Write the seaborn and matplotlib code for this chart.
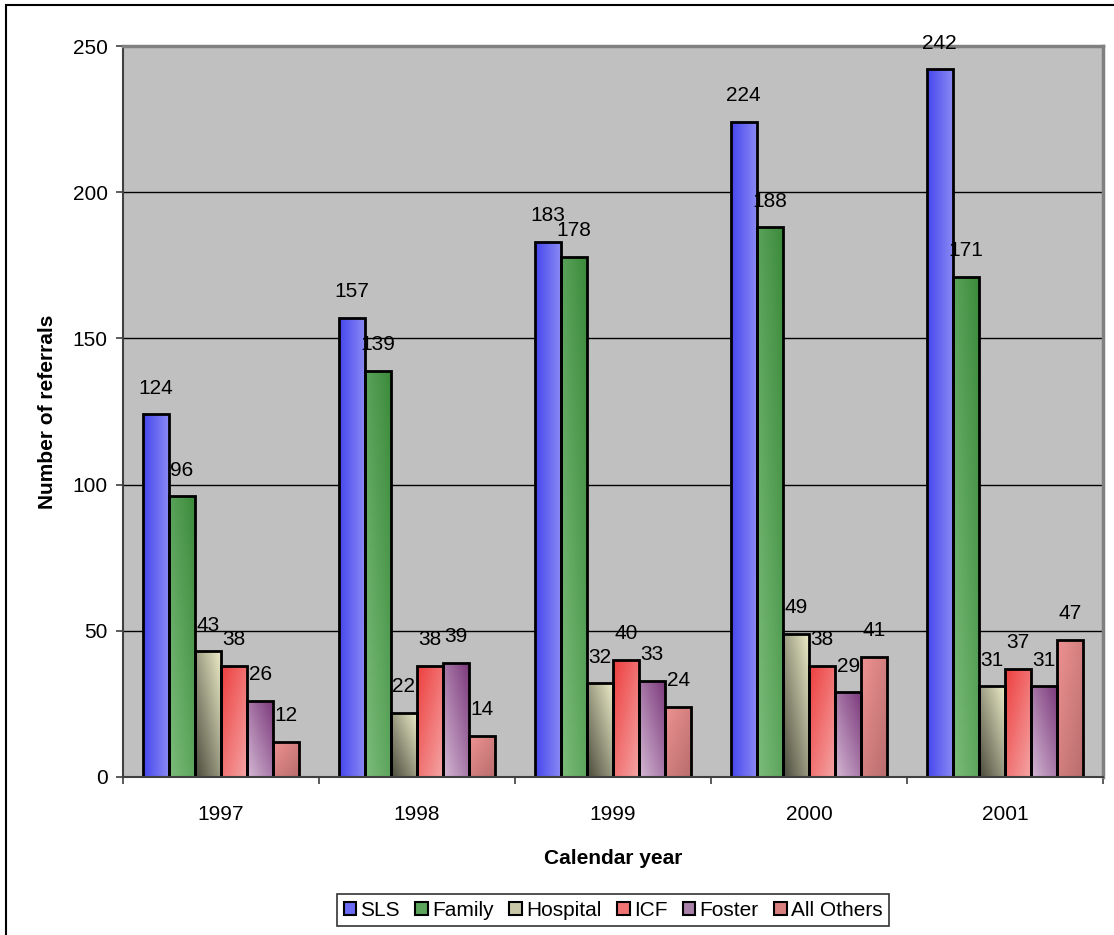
import matplotlib
matplotlib.use("Agg")
import matplotlib.pyplot as plt
from matplotlib.colors import LinearSegmentedColormap, to_rgb
from matplotlib.patches import Patch, Rectangle
import numpy as np
import pandas as pd
import seaborn as sns

# Data
years = ["1997", "1998", "1999", "2000", "2001"]
sources = ["SLS", "Family", "Hospital", "ICF", "Foster", "All Others"]
sls = [124, 157, 183, 224, 242]
family = [96, 139, 178, 188, 171]
hospital = [43, 22, 32, 49, 31]
icf = [38, 38, 40, 38, 37]
foster = [26, 39, 33, 29, 31]
all_others = [12, 14, 24, 41, 47]

rows = []
for src, vals in zip(sources, [sls, family, hospital, icf, foster, all_others]):
    for yr, v in zip(years, vals):
        rows.append({"year": yr, "source": src, "count": v})
df = pd.DataFrame(rows)

# Excel-like gradient fills: (start colour, end colour, direction)
# direction = (dx, dy) in bar-normalised coords, start -> end
gradients = {
    "SLS": ("#4646EE", "#8C8CF4", (1, 0)),
    "Family": ("#3A8A3A", "#7CBC7C", (-1, -1)),
    "Hospital": ("#EEEECA", "#4A4A3C", (-1, -1)),
    "ICF": ("#EE3E3E", "#F4A6A6", (1, -1)),
    "Foster": ("#7A387A", "#D4B8D4", (-1, -1)),
    "All Others": ("#EE9292", "#B86C6C", (1, -1)),
}
legend_colors = {
    "SLS": "#6A6AF2",
    "Family": "#5CA45C",
    "Hospital": "#C8C8A8",
    "ICF": "#F07474",
    "Foster": "#A880A8",
    "All Others": "#D88080",
}

sns.set_theme(style="white")
plt.rcParams["font.family"] = ["Liberation Sans", "DejaVu Sans"]
plt.rcParams["text.color"] = "black"
plt.rcParams["axes.labelcolor"] = "black"
plt.rcParams["xtick.color"] = "black"
plt.rcParams["ytick.color"] = "black"
FS = 15

fig = plt.figure(figsize=(11.14, 9.35), dpi=100)
ax = fig.add_axes([123 / 1114, 1 - 777 / 935, 980 / 1114, 731 / 935])
ax.set_facecolor("#C0C0C0")

sns.barplot(
    data=df, x="year", y="count", hue="source", hue_order=sources,
    palette=legend_colors, width=0.8, edgecolor="black", linewidth=2,
    legend=False, ax=ax,
)

# gradient overlay per bar, clipped to the bar shape
grid = np.linspace(0, 1, 64)
U, V = np.meshgrid(grid, grid)
Vup = 1 - V  # imshow origin is upper
for container, src in zip(ax.containers, sources):
    c0, c1, (dx, dy) = gradients[src]
    cmap = LinearSegmentedColormap.from_list(src, [to_rgb(c0), to_rgb(c1)])
    t = U * dx + Vup * dy
    t = (t - t.min()) / (t.max() - t.min())
    for bar in container:
        x0 = bar.get_x()
        w = bar.get_width()
        h = bar.get_height()
        im = ax.imshow(t, cmap=cmap, extent=(x0, x0 + w, 0, h),
                       aspect="auto", interpolation="bilinear", zorder=1.5)
        im.set_clip_path(bar)
        bar.set_facecolor("none")
        bar.set_zorder(2)
    ax.bar_label(container, padding=12, fontsize=FS, color="black")

ax.set_xlim(-0.5, len(years) - 0.5)
ax.set_ylim(0, 250)

# gridlines and axes styling
ax.set_yticks([0, 50, 100, 150, 200, 250])
ax.yaxis.grid(True, color="black", linewidth=1)
ax.set_axisbelow(True)
ax.set_xticks(range(len(years)))
ax.set_xticklabels(years)
ax.set_xticks(np.arange(-0.5, len(years), 1), minor=True)
ax.tick_params(axis="x", which="major", length=0, labelsize=FS, pad=20)
ax.tick_params(axis="x", which="minor", length=5, width=1.2, color="#404040",
               direction="out", bottom=True)
ax.tick_params(axis="y", length=5, width=1.2, color="#404040", direction="out",
               left=True, labelsize=FS, pad=6)

for side in ["left", "bottom"]:
    ax.spines[side].set_color("#404040")
    ax.spines[side].set_linewidth(1.5)
for side in ["top", "right"]:
    ax.spines[side].set_color("#808080")
    ax.spines[side].set_linewidth(2.5)

ax.set_xlabel("Calendar year", fontsize=FS, fontweight="bold", labelpad=18)
ax.set_ylabel("Number of referrals", fontsize=FS, fontweight="bold", labelpad=11)

handles = [Patch(facecolor=legend_colors[s], edgecolor="black", linewidth=1.5, label=s)
           for s in sources]
leg = fig.legend(
    handles=handles, loc="center", bbox_to_anchor=(613 / 1114, 1 - 910 / 935),
    ncol=6, frameon=True, fontsize=FS, handlelength=0.6, handleheight=0.6,
    handletextpad=0.2, columnspacing=0.75, borderpad=0.3, borderaxespad=0,
    fancybox=False,
)
leg.get_frame().set_edgecolor("black")
leg.get_frame().set_linewidth(1.2)

# outer chart-area frame (left and top visible)
fig.add_artist(Rectangle((6 / 1114, -0.1), 2.0, 1 - 5 / 935 + 0.1,
                         transform=fig.transFigure, fill=False,
                         edgecolor="black", linewidth=1.5))

fig.savefig("out.png", dpi=100)
